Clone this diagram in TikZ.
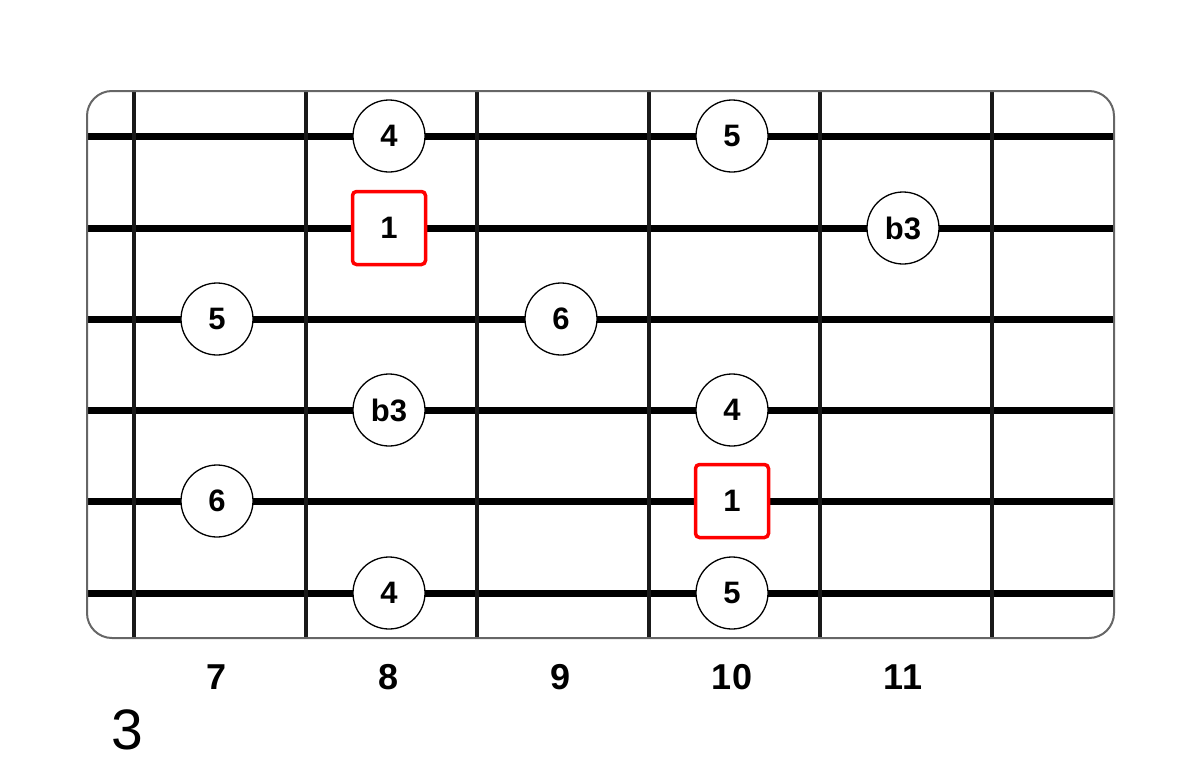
\documentclass[tikz,border=0pt]{standalone}
\usepackage{fontspec}
\setmainfont{Liberation Sans}

\begin{document}
\begin{tikzpicture}[x=1pt,y=-1pt,
		note/.style={circle,draw,line width=1.3pt,fill=white,minimum size=72pt,inner sep=0pt,font=\fontsize{31}{31}\selectfont\bfseries},
		rootnote/.style={draw=red,line width=3.5pt,rounded corners=4pt,fill=white,minimum size=73pt,inner sep=0pt,font=\fontsize{31}{31}\selectfont\bfseries},
		fretnum/.style={inner sep=0pt,font=\fontsize{36}{36}\selectfont\bfseries}]
		\useasboundingbox (0,0) rectangle (1200,774);

		% strings and frets
		\foreach \y in {136,228,319,410,501,593}
			\draw[line width=7pt] (87,\y) -- (1114,\y);
		\foreach \x in {134,306,477,649,820,992}
			\draw[line width=3.5pt, black!90] (\x,91) -- (\x,638);
		\draw[black!60, line width=2pt, rounded corners=25pt] (87,91) rectangle (1114,638);

		% notes
		\node[note] (s1a) at (389,136) {4};
		\node[note] (s1b) at (732,136) {5};
		\node[rootnote] (s2a) at (389,228) {1};
		\node[note] (s2b) at (903,228) {b3};
		\node[note] (s3a) at (217,319) {5};
		\node[note] (s3b) at (561,319) {6};
		\node[note] (s4a) at (389,410) {b3};
		\node[note] (s4b) at (732,410) {4};
		\node[note] (s5a) at (217,501) {6};
		\node[rootnote] (s5b) at (732,501) {1};
		\node[note] (s6a) at (389,593) {4};
		\node[note] (s6b) at (732,593) {5};

		% fret numbers
		\node[fretnum] (f7) at (217,677) {7};
		\node[fretnum] (f8) at (389,677) {8};
		\node[fretnum] (f9) at (561,677) {9};
		\node[fretnum] (f10) at (732,677) {10};
		\node[fretnum] (f11) at (903,677) {11};

		\node[inner sep=0pt,font=\fontsize{57}{57}\selectfont] (pos) at (127,730) {3};
	\end{tikzpicture}
\end{document}
